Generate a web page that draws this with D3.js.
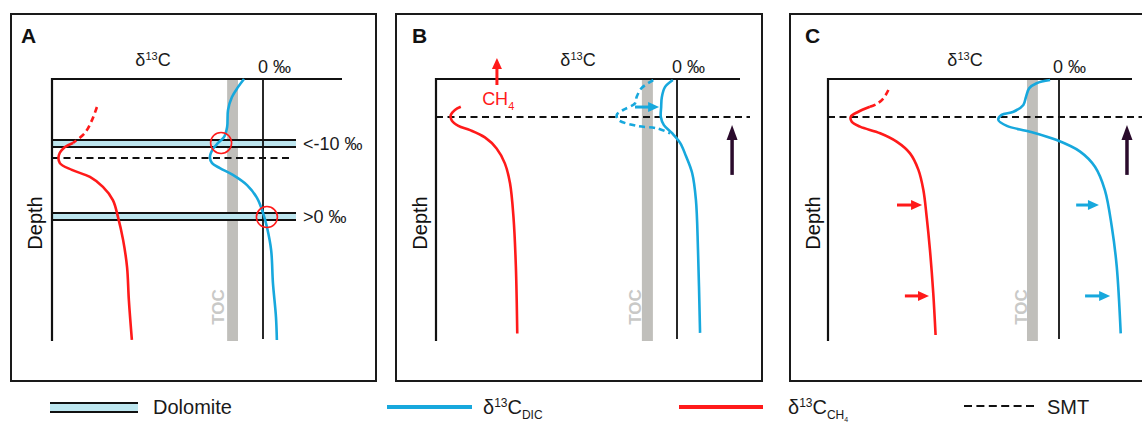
<!DOCTYPE html>
<html><head><meta charset="utf-8">
<script src="https://cdn.jsdelivr.net/npm/d3@7"></script>
<style>
body{margin:0;background:#fff}
svg{display:block}
text{font-family:"Liberation Sans",Arial,Helvetica,sans-serif}
</style>
</head><body>
<svg id="chart" width="1142" height="422"></svg>
<script>
// ---------------- DATA (δ13C in ‰-like units, depth 0–100) ----------------
const panelIds = ["A", "B", "C"];
const tocBand = { A: [-11.9, -8.3], B: [-10.2, -7.0], C: [-9.7, -6.4] };
const smtDepth = { A: 30.2, B: 14.5, C: 14.5 };
const dolomiteBands = [[23.3, 26.0], [51.1, 53.8]];
const dolomiteLabels = ["<-10 ‰", ">0 ‰"];
const circlesA = [[-13.9, 24.4], [1.3, 52.7]];

const redA_dashed = [[-55.1,10.7],[-56.7,15.6],[-59.1,20.6],[-63.0,24.4]];
const redA = [[-63.0,24.4],[-65.7,26.0],[-67.7,29.0],[-67.4,32.1],[-63.4,34.7],[-57.4,37.4],[-53.1,41.2],[-49.8,46.2],[-48.1,52.7],[-46.4,61.5],[-45.1,71.8],[-44.5,84.4],[-43.5,99.6]];
const blueA = [[-6.3,0],[-8.3,3.1],[-10.3,6.9],[-11.6,11.8],[-11.9,18.3],[-12.9,22.1],[-14.9,24.4],[-16.6,26.7],[-17.6,29.8],[-16.9,32.1],[-14.3,34.0],[-10.0,36.6],[-5.3,40.5],[-2.0,45.4],[0,51.1],[1.3,56.5],[2.7,65.3],[3.3,77.9],[4.3,90.8],[4.6,99.6]];

const redB = [[-62.8,10.6],[-64.5,11.8],[-65.7,13.7],[-65.4,15.9],[-63.5,17.9],[-60.1,19.5],[-55.8,22.3],[-52.4,26.5],[-50.0,32.2],[-48.5,39.8],[-47.5,52.6],[-46.8,71.6],[-46.4,97.1]];
const blueB = [[-1.2,0.4],[-3.5,3.1],[-4.4,6.9],[-4.6,10.7],[-4.7,14.5],[-3.8,17.6],[-1.5,20.6],[0.9,24.4],[2.6,29.4],[4.4,35.9],[5.5,46.2],[6.1,65.3],[6.7,96.9]];
const blueB_dashed = [[-6.9,0.4],[-10.3,3.5],[-11.7,6.8],[-12.2,9.3],[-15.6,11.8],[-17.5,13.7],[-17.0,15.6],[-11.7,17.9],[-5.9,18.8],[-2.0,20.7]];
const arrowsB = [
  { from: [-12.2, 10.7], to: [-5.2, 10.7], kind: "blue" },
  { from: [16.0, 36.6], to: [16.0, 17.6], kind: "dark" },
  { from: [-52.3, 2.3], to: [-52.3, -8.0], kind: "red" }
];
const ch4LabelB = [-56.6, 9.9];

const redC_dashed = [[-51.7,4.2],[-53.2,7.4],[-55.2,9.5],[-57.3,10.6]];
const redC = [[-57.3,10.6],[-60.8,12.5],[-63.1,14.4],[-62.8,16.3],[-60.3,18.2],[-54.2,20.7],[-49.2,23.9],[-45.2,28.3],[-42.6,34.7],[-41.1,42.4],[-40.1,52.6],[-39.1,65.3],[-38.1,81.8],[-37.4,97.7]];
const blueC = [[-2.7,0.4],[-6.8,1.6],[-9.0,3.5],[-10.0,6.8],[-10.8,9.9],[-13.8,12.5],[-17.4,13.7],[-18.4,15.6],[-15.8,17.9],[-8.8,20.1],[-0.7,23.3],[6.4,27.7],[10.9,33.5],[13.9,42.4],[16.0,56.4],[17.5,71.6],[18.7,97.1]];
const arrowsC = [
  { from: [-49.1, 48.1], to: [-41.5, 48.1], kind: "red" },
  { from: [-46.7, 82.8], to: [-39.4, 82.8], kind: "red" },
  { from: [5.2, 48.1], to: [12.1, 48.1], kind: "blue" },
  { from: [7.9, 82.8], to: [15.5, 82.8], kind: "blue" },
  { from: [20.6, 36.6], to: [20.6, 17.6], kind: "dark" }
];

const legendItems = ["Dolomite", "DIC", "CH", "SMT"];

// ---------------- LAYOUT / STYLE ----------------
const C = { red: "#ff1a1a", blue: "#17a8dd", dark: "#2a0b2c", toc: "#c0bfbb", tocText: "#c9c9c7", dolo: "#bde6ef" };
const layout = {
  A: { fx0: 11, fx1: 376, axisX: 52, zeroX: 263, axisRight: 342, lab: 21, d13: 153, zl: 258, dep: 35, tocL: 218, smtEnd: 290, doloEnd: 296, doloLab: 303 },
  B: { fx0: 396, fx1: 762, axisX: 436, zeroX: 677, axisRight: 740, lab: 412, d13: 578, zl: 672, dep: 420, tocL: 635, smtEnd: 750 },
  C: { fx0: 790, fx1: 1170, axisX: 828, zeroX: 1059, axisRight: 1132, lab: 805, d13: 965, zl: 1053, dep: 813, tocL: 1021, smtEnd: 1150 }
};
const fy0 = 14, fy1 = 381, topY = 79, botY = 341;
const arrowStyle = {
  red: { color: C.red, shaft: 3, hw: 10, hl: 11 },
  blue: { color: C.blue, shaft: 3, hw: 10, hl: 11 },
  dark: { color: C.dark, shaft: 3.5, hw: 11, hl: 15 }
};

const svg = d3.select("#chart");
const y = d3.scaleLinear().domain([0, 100]).range([topY, botY]);

function drawArrow(g, x, a) {
  const st = arrowStyle[a.kind];
  const x1 = x(a.from[0]), y1 = y(a.from[1]), x2 = x(a.to[0]), y2 = y(a.to[1]);
  const len = Math.hypot(x2 - x1, y2 - y1), ux = (x2 - x1) / len, uy = (y2 - y1) / len;
  const bx = x2 - ux * st.hl, by = y2 - uy * st.hl;
  g.append("line").attr("x1", x1).attr("y1", y1).attr("x2", bx + ux).attr("y2", by + uy)
    .attr("stroke", st.color).attr("stroke-width", st.shaft);
  g.append("path").attr("d", `M${x2},${y2}L${bx - uy * st.hw / 2},${by + ux * st.hw / 2}L${bx + uy * st.hw / 2},${by - ux * st.hw / 2}Z`)
    .attr("fill", st.color);
}

panelIds.forEach(id => {
  const L = layout[id];
  const x = d3.scaleLinear().domain([-70, 0]).range([L.axisX, L.zeroX]);
  const line = d3.line().x(d => x(d[0])).y(d => y(d[1])).curve(d3.curveCatmullRom.alpha(0.5));
  const g = svg.append("g");

  // frame
  g.append("rect").attr("x", L.fx0).attr("y", fy0).attr("width", L.fx1 - L.fx0).attr("height", fy1 - fy0)
    .attr("fill", "none").attr("stroke", "#1a1a1a").attr("stroke-width", 2);

  // TOC band
  g.append("rect").attr("x", x(tocBand[id][0])).attr("y", y(0))
    .attr("width", x(tocBand[id][1]) - x(tocBand[id][0])).attr("height", y(100) - y(0)).attr("fill", C.toc);
  g.append("text").attr("transform", `translate(${L.tocL + 6},${307}) rotate(-90)`)
    .attr("text-anchor", "middle").attr("font-size", 17).attr("font-weight", "bold").attr("fill", C.tocText).text("TOC");

  // dolomite bands (panel A)
  if (id === "A") {
    dolomiteBands.forEach((b, i) => {
      g.append("rect").attr("x", L.axisX).attr("y", y(b[0])).attr("width", L.doloEnd - L.axisX)
        .attr("height", y(b[1]) - y(b[0])).attr("fill", C.dolo);
      [b[0], b[1]].forEach(v => g.append("line").attr("x1", L.axisX).attr("x2", L.doloEnd)
        .attr("y1", y(v)).attr("y2", y(v)).attr("stroke", "#111").attr("stroke-width", 2));
      g.append("text").attr("x", L.doloLab).attr("y", y((b[0] + b[1]) / 2) + 6.5)
        .attr("font-size", 18).attr("fill", "#1a1a1a").text(dolomiteLabels[i]);
    });
  }

  // axes
  g.append("line").attr("x1", L.axisX).attr("x2", L.axisX).attr("y1", y(0) - 1).attr("y2", y(100))
    .attr("stroke", "#111").attr("stroke-width", 2.2);
  g.append("line").attr("x1", L.axisX - 1).attr("x2", L.axisRight).attr("y1", y(0)).attr("y2", y(0))
    .attr("stroke", "#111").attr("stroke-width", 2.2);
  g.append("line").attr("x1", x(0)).attr("x2", x(0)).attr("y1", y(0)).attr("y2", y(99.2))
    .attr("stroke", "#111").attr("stroke-width", 1.8);

  // SMT
  g.append("line").attr("x1", L.axisX).attr("x2", L.smtEnd).attr("y1", y(smtDepth[id])).attr("y2", y(smtDepth[id]))
    .attr("stroke", "#111").attr("stroke-width", 2).attr("stroke-dasharray", "7,4.5");

  // labels
  g.append("text").attr("x", L.lab).attr("y", 43).attr("font-size", 21).attr("font-weight", "bold").attr("fill", "#111").text(id);
  const t = g.append("text").attr("x", L.d13).attr("y", 66).attr("text-anchor", "middle").attr("font-size", 18).attr("fill", "#1a1a1a");
  t.append("tspan").text("δ");
  t.append("tspan").attr("font-size", 11).attr("dy", -6).text("13");
  t.append("tspan").attr("dy", 6).text("C");
  g.append("text").attr("x", L.zl).attr("y", 73).attr("font-size", 18).attr("fill", "#1a1a1a").text("0 ‰");
  g.append("text").attr("transform", `translate(${L.dep + 7},${223}) rotate(-90)`).attr("text-anchor", "middle")
    .attr("font-size", 20).attr("fill", "#111").text("Depth");

  const curve = (data, color, dashed) => g.append("path").attr("d", line(data)).attr("fill", "none")
    .attr("stroke", color).attr("stroke-width", 2.6).attr("stroke-linecap", "butt")
    .attr("stroke-dasharray", dashed ? "6,4" : null);

  if (id === "A") {
    curve(redA_dashed, C.red, true);
    curve(redA, C.red, false);
    curve(blueA, C.blue, false);
    circlesA.forEach(c => g.append("circle").attr("cx", x(c[0])).attr("cy", y(c[1])).attr("r", 10.5)
      .attr("fill", "none").attr("stroke", C.red).attr("stroke-width", 1.6));
  }
  if (id === "B") {
    curve(redB, C.red, false);
    curve(blueB_dashed, C.blue, true);
    curve(blueB, C.blue, false);
    arrowsB.forEach(a => drawArrow(g, x, a));
    const ct = g.append("text").attr("x", x(ch4LabelB[0])).attr("y", y(ch4LabelB[1])).attr("font-size", 18).attr("fill", C.red);
    ct.append("tspan").text("CH");
    ct.append("tspan").attr("font-size", 11).attr("dy", 5).text("4");
  }
  if (id === "C") {
    curve(redC_dashed, C.red, true);
    curve(redC, C.red, false);
    curve(blueC, C.blue, false);
    arrowsC.forEach(a => drawArrow(g, x, a));
  }
});

// ---------------- LEGEND ----------------
const lg = svg.append("g");
const ly = 407;
lg.append("rect").attr("x", 50).attr("y", 403).attr("width", 88).attr("height", 9).attr("fill", C.dolo);
[403, 412].forEach(v => lg.append("line").attr("x1", 50).attr("x2", 138).attr("y1", v).attr("y2", v).attr("stroke", "#111").attr("stroke-width", 1.8));
lg.append("text").attr("x", 153).attr("y", 414).attr("font-size", 20).attr("fill", "#1a1a1a").text(legendItems[0]);

lg.append("line").attr("x1", 387).attr("x2", 472).attr("y1", ly).attr("y2", ly).attr("stroke", C.blue).attr("stroke-width", 4);
const t1 = lg.append("text").attr("x", 483).attr("y", 414).attr("font-size", 20).attr("fill", "#1a1a1a");
t1.append("tspan").text("δ");
t1.append("tspan").attr("font-size", 12).attr("dy", -7).text("13");
t1.append("tspan").attr("dy", 7).text("C");
t1.append("tspan").attr("font-size", 12).attr("dy", 5).text(legendItems[1]);

lg.append("line").attr("x1", 679).attr("x2", 763).attr("y1", ly).attr("y2", ly).attr("stroke", C.red).attr("stroke-width", 4);
const t2 = lg.append("text").attr("x", 788).attr("y", 414).attr("font-size", 20).attr("fill", "#1a1a1a");
t2.append("tspan").text("δ");
t2.append("tspan").attr("font-size", 12).attr("dy", -7).text("13");
t2.append("tspan").attr("dy", 7).text("C");
t2.append("tspan").attr("font-size", 12).attr("dy", 5).text(legendItems[2]);
t2.append("tspan").attr("font-size", 7).attr("dy", 3).text("4");

lg.append("line").attr("x1", 964).attr("x2", 1034).attr("y1", 406).attr("y2", 406).attr("stroke", "#111")
  .attr("stroke-width", 2).attr("stroke-dasharray", "8,4.4");
lg.append("text").attr("x", 1047).attr("y", 414).attr("font-size", 20).attr("fill", "#1a1a1a").text(legendItems[3]);
</script>
</body></html>
